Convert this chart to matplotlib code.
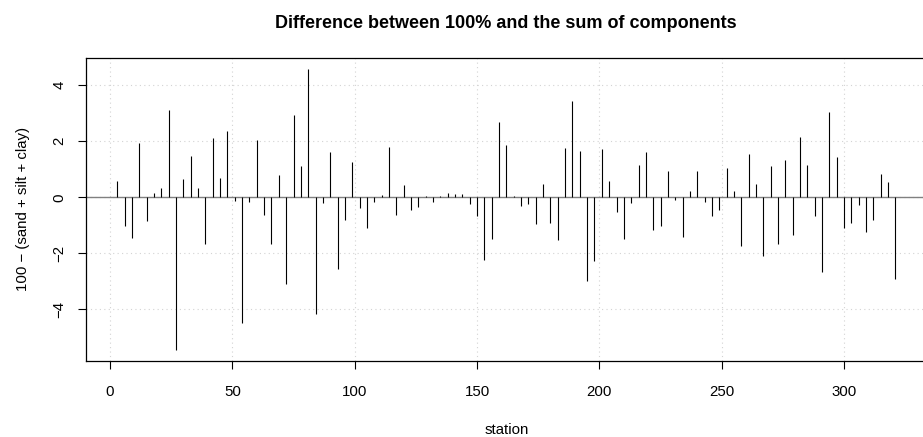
import matplotlib
matplotlib.use("Agg")
import matplotlib.pyplot as plt

stations = [3, 6, 9, 12, 15, 18, 21, 24, 27, 30, 33, 36, 39, 42, 45, 48, 51, 54, 57, 60,
            63, 66, 69, 72, 75, 78, 81, 84, 87, 90, 93, 96, 99, 102, 105, 108, 111, 114, 117, 120,
            123, 126, 129, 132, 135, 138, 141, 144, 147, 150, 153, 156, 159, 162, 165, 168, 171, 174, 177, 180,
            183, 186, 189, 192, 195, 198, 201, 204, 207, 210, 213, 216, 219, 222, 225, 228, 231, 234, 237, 240,
            243, 246, 249, 252, 255, 258, 261, 264, 267, 270, 273, 276, 279, 282, 285, 288, 291, 294, 297, 300,
            303, 306, 309, 312, 315, 318, 321]

difference = [0.58, -1.02, -1.44, 1.93, -0.83, 0.14, 0.33, 3.10, -5.44, 0.64,
              1.49, 0.33, -1.65, 2.12, 0.70, 2.35, -0.13, -4.50, -0.18, 2.03,
              -0.63, -1.65, 0.78, -3.10, 2.92, 1.11, 4.58, -4.16, -0.20, 1.60,
              -2.56, -0.82, 1.26, -0.38, -1.09, -0.15, 0.09, 1.78, -0.63, 0.45,
              -0.45, -0.36, 0.03, -0.18, 0.05, 0.17, 0.11, 0.11, -0.23, -0.66,
              -2.22, -1.49, 2.70, 1.85, 0.03, -0.32, -0.23, -0.96, 0.46, -0.90,
              -1.53, 1.77, 3.45, 1.65, -2.97, -2.28, 1.73, 0.59, -0.52, -1.49,
              -0.20, 1.17, 1.60, -1.16, -1.02, 0.93, -0.08, -1.40, 0.21, 0.95,
              -0.17, -0.68, -0.44, 1.06, 0.23, -1.72, 1.54, 0.49, -2.08, 1.10,
              -1.68, 1.34, -1.33, 2.16, 1.16, -0.66, -2.68, 3.05, 1.42, -1.10,
              -0.91, -0.26, -1.23, -0.82, 0.84, 0.56, -2.91]

x_ticks = [0, 50, 100, 150, 200, 250, 300]
y_ticks = [-4, -2, 0, 2, 4]

plt.rcParams['font.family'] = ['Liberation Sans', 'DejaVu Sans']

W, H = 923, 437
fig = plt.figure(figsize=(W / 100, H / 100), dpi=100)
ax = fig.add_axes([86.2 / W, (H - 361) / H, 840.4 / W, 303.3 / H])

xr = max(stations) - min(stations)
ax.set_xlim(min(stations) - 0.04 * xr, max(stations) + 0.04 * xr)
yr = max(difference) - min(difference)
ax.set_ylim(min(difference) - 0.04 * yr, max(difference) + 0.04 * yr)

for t in x_ticks:
    ax.axvline(t, color='#d3d3d3', lw=0.8, ls=(0, (1, 3)), zorder=1)
for t in y_ticks:
    ax.axhline(t, color='#d3d3d3', lw=0.8, ls=(0, (1, 3)), zorder=1)

ax.axhline(0, color='#808080', lw=1.0, zorder=2)
ax.vlines(stations, 0, difference, colors='black', lw=0.8, zorder=3)

ax.set_xticks(x_ticks)
ax.set_yticks(y_ticks)
ax.set_xticklabels([str(t) for t in x_ticks])
ax.set_yticklabels([str(t) if t >= 0 else '\u2212' + str(-t) for t in y_ticks],
                   rotation=90, va='center')
ax.tick_params(axis='both', length=5.8, width=0.8, labelsize=10.8, color='black')
ax.tick_params(axis='x', pad=11.5)
ax.tick_params(axis='y', pad=8.5)
for s in ax.spines.values():
    s.set_linewidth(0.9)
    s.set_color('black')

ax.set_xlabel('station', fontsize=10.8, labelpad=17.5)
ax.set_ylabel('100 \u2212 (sand + silt + clay)', fontsize=10.8, labelpad=16)

fig.text(506 / W, 1 - 23.5 / H, 'Difference between 100% and the sum of components',
         ha='center', va='center', fontsize=13, fontweight='bold')

fig.savefig('out.png', dpi=100)
